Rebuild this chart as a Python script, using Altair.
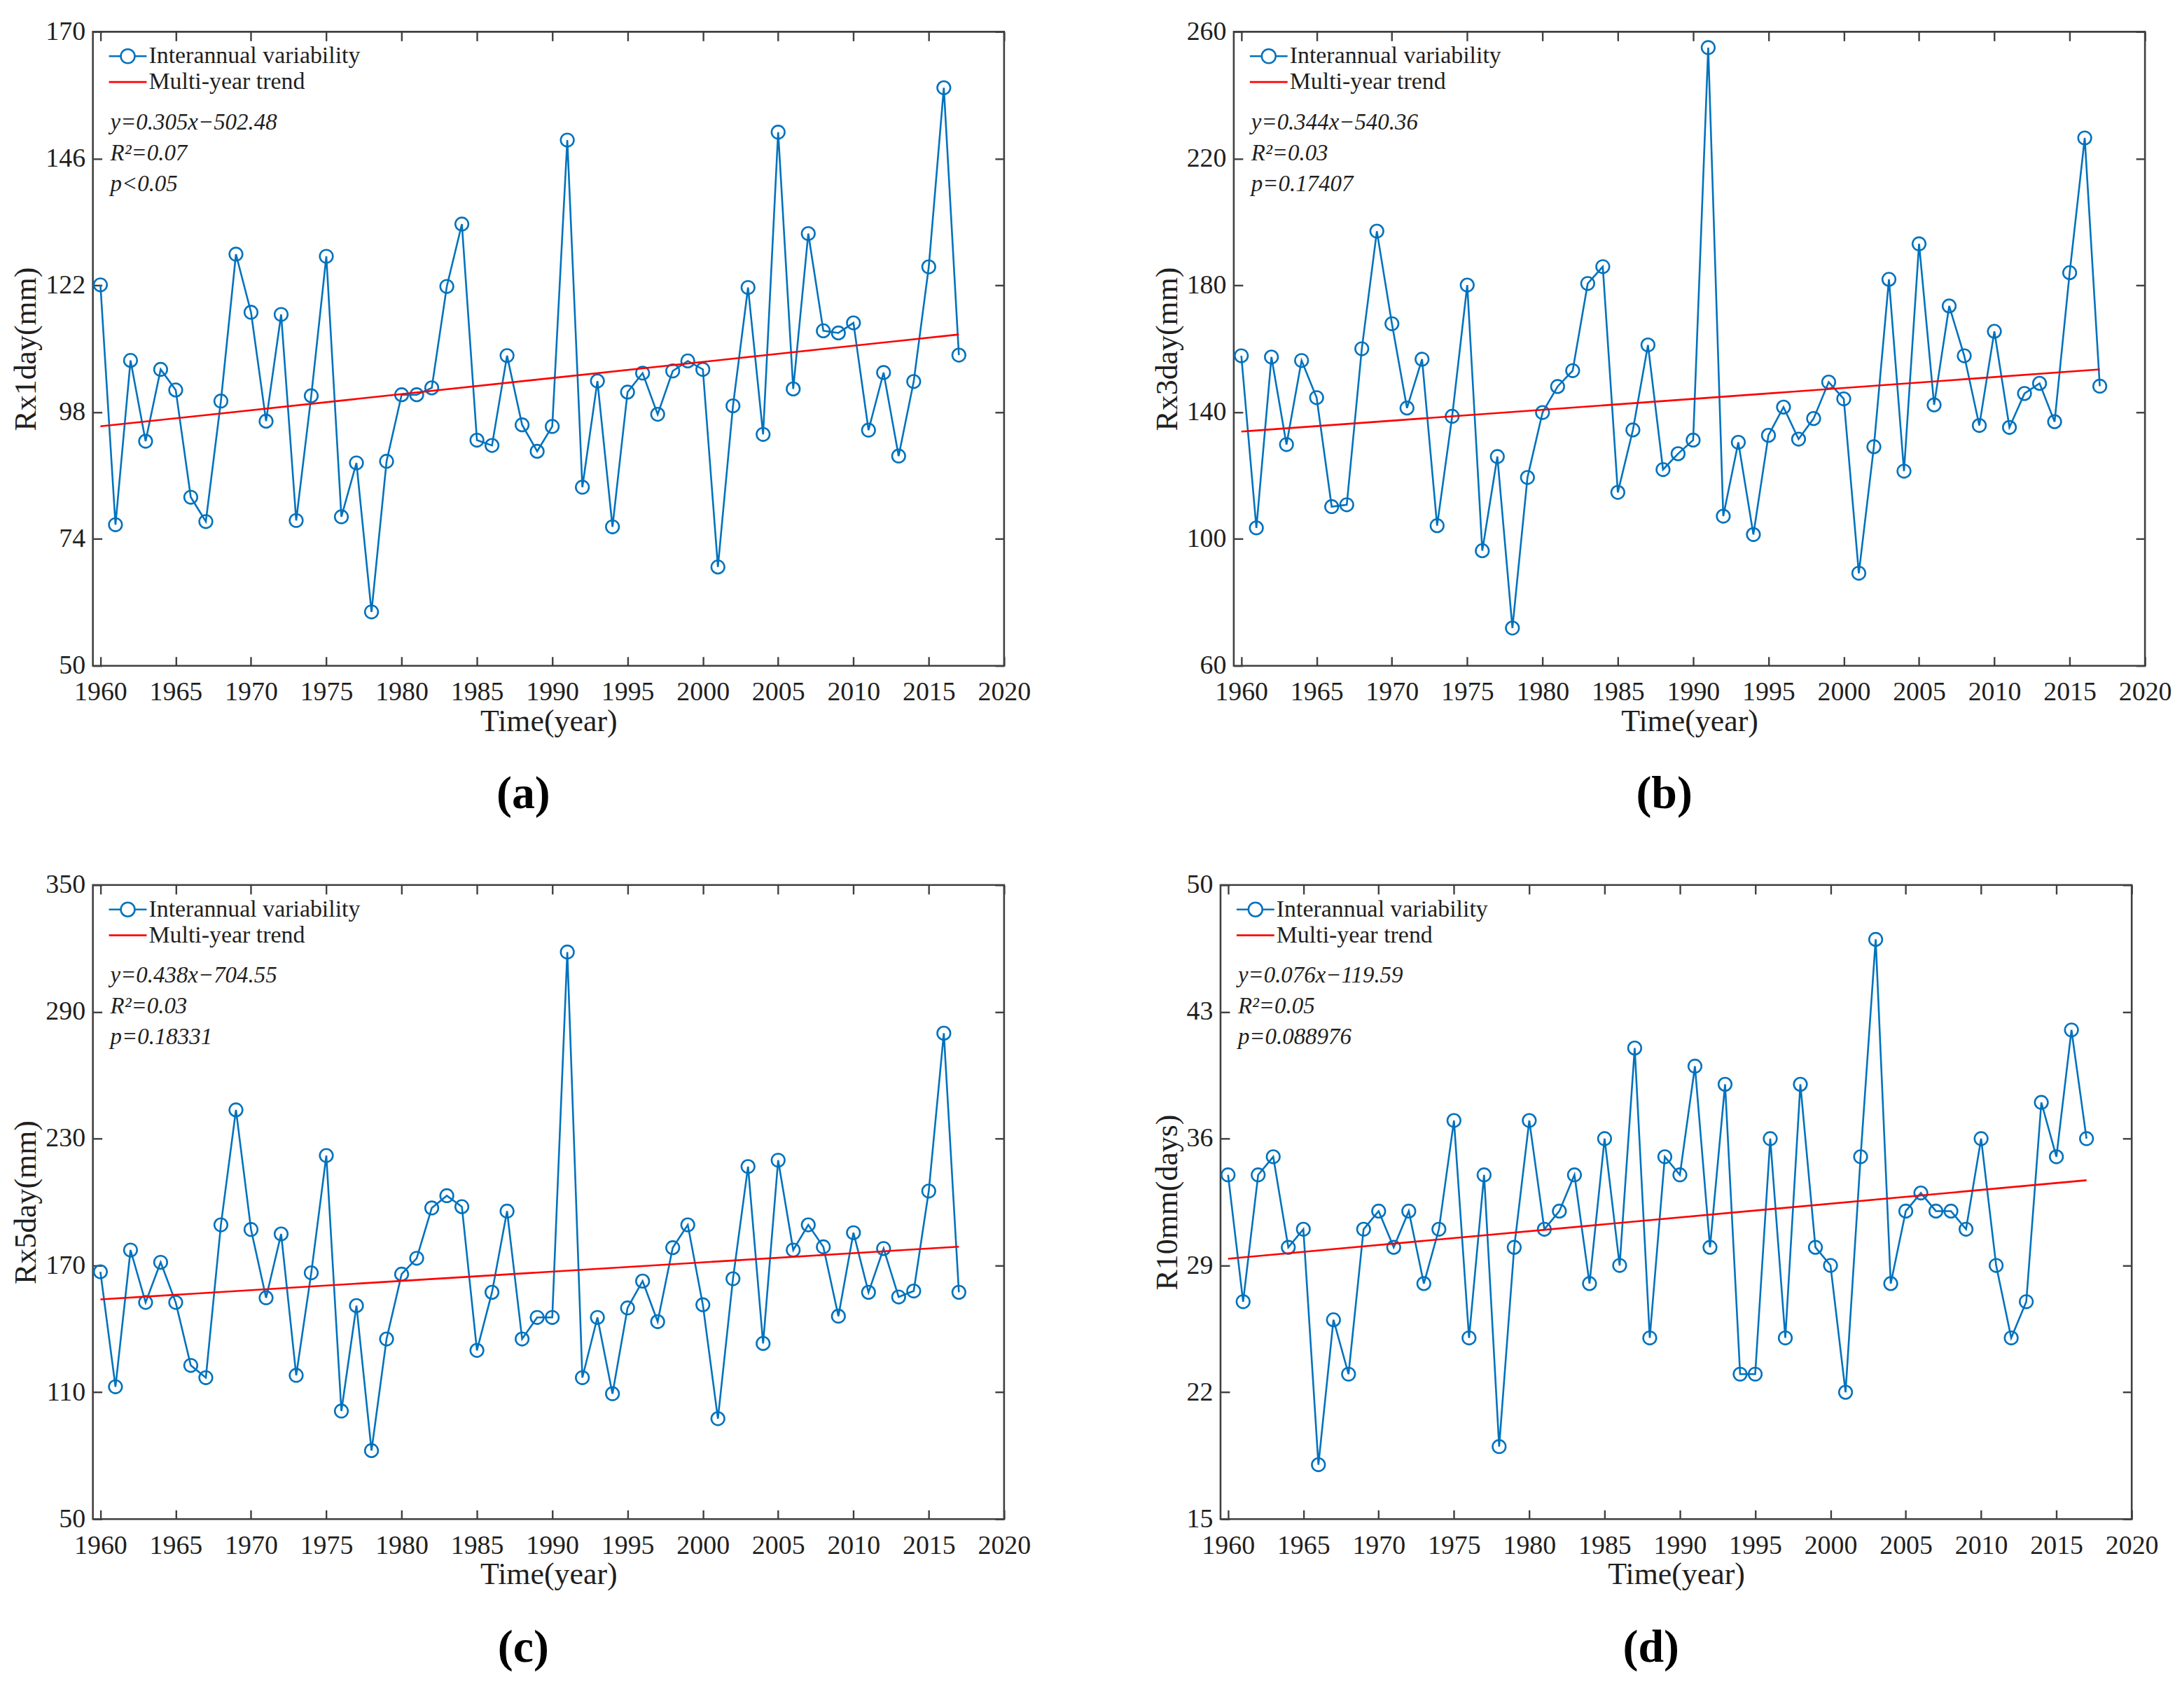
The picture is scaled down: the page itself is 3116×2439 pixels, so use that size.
import altair as alt
import pandas as pd

years = list(range(1960, 2018))

rx1 = [122.1, 76.7, 107.8, 92.5, 106.1, 102.2, 81.9, 77.3, 100.1, 127.9,
       116.9, 96.3, 116.5, 77.5, 101.1, 127.5, 78.2, 88.4, 60.2, 88.7,
       101.3, 101.3, 102.6, 121.8, 133.6, 92.7, 91.7, 108.7, 95.6, 90.6,
       95.3, 149.5, 83.8, 103.9, 76.3, 101.8, 105.4, 97.6, 105.8, 107.7,
       106.1, 68.7, 99.2, 121.6, 93.8, 151.0, 102.4, 131.8, 113.4, 113.0,
       114.9, 94.6, 105.5, 89.7, 103.8, 125.5, 159.4, 108.8]

rx3 = [157.8, 103.5, 157.4, 129.8, 156.3, 144.6, 110.2, 110.8, 160.0, 197.1,
       167.9, 141.3, 156.7, 104.2, 138.7, 180.1, 96.3, 126.0, 71.9, 119.4,
       139.9, 148.1, 153.1, 180.6, 185.9, 114.7, 134.4, 161.2, 121.9, 126.9,
       131.2, 255.0, 107.2, 130.5, 101.4, 132.7, 141.6, 131.5, 138.0, 149.5,
       144.2, 89.2, 129.1, 181.9, 121.4, 193.1, 142.3, 173.5, 157.8, 135.8,
       165.5, 135.2, 145.9, 149.1, 137.0, 184.0, 226.5, 148.2]

rx5 = [167.0, 112.6, 177.3, 152.5, 171.5, 152.5, 122.7, 116.9, 189.2, 243.6,
       187.0, 154.7, 184.9, 118.0, 166.5, 222.0, 101.1, 151.0, 82.4, 135.2,
       165.9, 173.4, 197.2, 203.0, 197.8, 129.8, 157.3, 195.7, 135.2, 145.4,
       145.4, 318.3, 116.9, 145.4, 109.3, 149.9, 162.6, 143.4, 178.4, 189.2,
       151.4, 97.5, 163.7, 216.8, 133.1, 219.8, 177.3, 189.2, 178.8, 146.0,
       185.5, 157.3, 178.0, 155.1, 157.9, 205.2, 279.9, 157.3]

r10 = [34, 27, 34, 35, 30, 31, 18, 26, 23, 31,
       32, 30, 32, 28, 31, 37, 25, 34, 19, 30,
       37, 31, 32, 34, 28, 36, 29, 41, 25, 35,
       34, 40, 30, 39, 23, 23, 36, 25, 39, 30,
       29, 22, 35, 47, 28, 32, 33, 32, 32, 31,
       36, 29, 25, 27, 38, 35, 42, 36]

x_ticks = [1960, 1965, 1970, 1975, 1980, 1985, 1990, 1995, 2000, 2005, 2010, 2015, 2020]
x_domain = [1959.5, 2020]
x_title = "Time(year)"

series_names = ["Interannual variability", "Multi-year trend"]

panel_keys = ["(a)", "(b)", "(c)", "(d)"]
panel_values = [rx1, rx3, rx5, r10]
panel_ytitles = ["Rx1day(mm)", "Rx3day(mm)", "Rx5day(mm)", "R10mm(days)"]
panel_yticks = [[50, 74, 98, 122, 146, 170],
                [60, 100, 140, 180, 220, 260],
                [50, 110, 170, 230, 290, 350],
                [15, 22, 29, 36, 43, 50]]
panel_slopes = [0.305, 0.344, 0.438, 0.076]
panel_intercepts = [-502.48, -540.36, -704.55, -119.59]
panel_eq = [["y=0.305x\u2212502.48", "R\u00b2=0.07", "p<0.05"],
            ["y=0.344x\u2212540.36", "R\u00b2=0.03", "p=0.17407"],
            ["y=0.438x\u2212704.55", "R\u00b2=0.03", "p=0.18331"],
            ["y=0.076x\u2212119.59", "R\u00b2=0.05", "p=0.088976"]]

BLUE = "#0072BD"
RED = "#FF0000"
AX = "#404040"
TXT = "#1f1f1f"
FONT = "Liberation Serif"
W, H = 1305, 908
TICK = 13

SYM_LINE_CIRCLE = "M-2.7,0H-1M1,0H2.7M1,0A1,1,0,1,1,-1,0A1,1,0,1,1,1,0"
SYM_LINE = "M-2.7,0H2.7"


def make_panel(i):
    vals = panel_values[i]
    yt = panel_yticks[i]
    df = pd.DataFrame({"year": years, "value": vals})
    trend_years = [years[0], years[-1]]
    tdf = pd.DataFrame({"year": trend_years,
                        "value": [panel_slopes[i] * yy + panel_intercepts[i] for yy in trend_years]})

    xscale = alt.Scale(domain=x_domain, nice=False, zero=False)
    yscale = alt.Scale(domain=[yt[0], yt[-1]], nice=False, zero=False)

    xb = alt.X("year:Q", scale=xscale,
               axis=alt.Axis(values=x_ticks, title=x_title, orient="bottom", offset=-TICK,
                             format="d", labelPadding=19, titlePadding=1, labelOverlap=False,
                             labelFlush=False))
    yl = alt.Y("value:Q", scale=yscale,
               axis=alt.Axis(values=yt, title=panel_ytitles[i], orient="left", offset=-TICK,
                             labelPadding=11, titlePadding=5, labelOverlap=False,
                             labelFlush=False))
    xt = alt.X("year:Q", scale=xscale,
               axis=alt.Axis(values=x_ticks, title=None, orient="top", offset=-TICK, labels=False))
    yr = alt.Y("value:Q", scale=yscale,
               axis=alt.Axis(values=yt, title=None, orient="right", offset=-TICK, labels=False))

    line = alt.Chart(df).mark_line(color=BLUE, strokeWidth=2.6).encode(x=xb, y=yl)
    pts = alt.Chart(df).mark_point(shape="circle", filled=False, color=BLUE, size=350,
                                   strokeWidth=2.6, opacity=1).encode(
        x=alt.X("year:Q", scale=xscale, axis=None),
        y=alt.Y("value:Q", scale=yscale, axis=None))
    trend = alt.Chart(tdf).mark_line(color=RED, strokeWidth=2.6).encode(x=xt, y=yr)

    leg = alt.Legend(title=None, orient="none", legendX=33, legendY=18, direction="vertical",
                     labelFont=FONT, labelFontSize=34, labelColor=TXT, labelLimit=0,
                     symbolSize=400, symbolStrokeWidth=2.6, labelOffset=13, rowPadding=3,
                     padding=0)
    ldf = pd.DataFrame({"series": series_names})
    legend_layer = alt.Chart(ldf).transform_filter("false").mark_point(
        filled=False, size=400, strokeWidth=2.6, opacity=1).encode(
        color=alt.Color("series:N", scale=alt.Scale(domain=series_names, range=[BLUE, RED]), legend=leg),
        shape=alt.Shape("series:N", scale=alt.Scale(domain=series_names, range=[SYM_LINE_CIRCLE, SYM_LINE]), legend=leg),
    )

    eq = alt.Chart(pd.DataFrame({"k": [0]})).mark_text(
        align="left", baseline="alphabetic", font=FONT, fontSize=33, fontStyle="italic",
        color=TXT, lineHeight=44).encode(
        x=alt.value(25), y=alt.value(140), text=alt.value(panel_eq[i]))

    return alt.layer(line, pts, trend, legend_layer, eq).resolve_axis(
        x="independent", y="independent").properties(
        width=W, height=H,
        title=alt.TitleParams(panel_keys[i], orient="bottom", anchor="middle", fontSize=66,
                              font=FONT, fontWeight="bold", color="#000000", offset=50, dx=-36))


row1 = alt.hconcat(make_panel(0), make_panel(1), spacing=170).resolve_scale(
    color="independent", shape="independent").resolve_legend(color="independent", shape="independent")
row2 = alt.hconcat(make_panel(2), make_panel(3), spacing=170).resolve_scale(
    color="independent", shape="independent").resolve_legend(color="independent", shape="independent")

chart = alt.vconcat(row1, row2, spacing=74).resolve_scale(
    color="independent", shape="independent").resolve_legend(
    color="independent", shape="independent").properties(
    padding={"left": 6, "top": 13, "right": 5, "bottom": 5}, background="white"
).configure_view(stroke=AX, strokeWidth=2.6).configure_axis(
    grid=False, domain=False, tickColor=AX, tickWidth=2.4, tickSize=TICK,
    labelFont=FONT, labelFontSize=38, labelColor=TXT,
    titleFont=FONT, titleFontSize=44, titleFontWeight="normal", titleColor=TXT
)

chart.save("out.html", embed_options={"renderer": "svg", "actions": False})
